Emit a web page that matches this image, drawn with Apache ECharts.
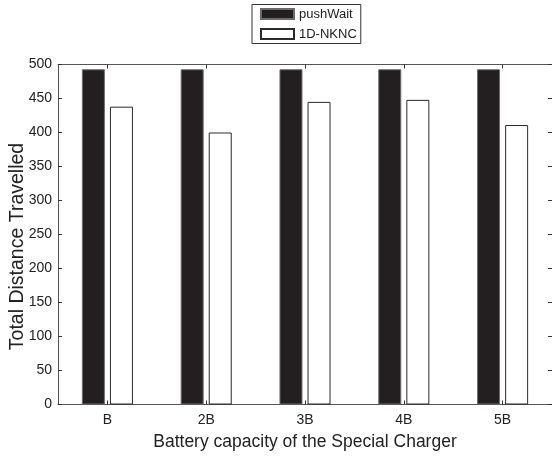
<!DOCTYPE html>
<html>
<head>
<meta charset="utf-8">
<script src="https://cdn.jsdelivr.net/npm/echarts@6/dist/echarts.min.js"></script>
<style>
  html, body { margin: 0; padding: 0; background: #ffffff; }
  #chart { width: 552px; height: 456px; }
</style>
</head>
<body>
<div id="chart"></div>
<script>
// Battery capacity settings of the special charger
const categories = ['B', '2B', '3B', '4B', '5B'];
// Total distance travelled per method
const pushWait = [493, 493, 493, 493, 493];
const nknc1D = [438, 400, 445, 448, 411];
// Value axis range and step
const yMin = 0;
const yMax = 500;
const yStep = 50;

const FONT = '"Liberation Sans", Arial, Helvetica, sans-serif';
const AXIS_COLOR = '#555555';
const TEXT_COLOR = '#222222';

const chart = echarts.init(document.getElementById('chart'), null, { renderer: 'canvas' });

// fresh style objects for every axis
function tickStyle(extra) {
  return Object.assign({ show: true, inside: true, length: 4, lineStyle: { color: '#333333', width: 1 } }, extra || {});
}
function axisLineStyle() {
  return { show: true, onZero: false, lineStyle: { color: AXIS_COLOR, width: 1 } };
}

chart.setOption({
  animation: false,
  backgroundColor: '#ffffff',
  textStyle: { fontFamily: FONT },
  legend: {
    orient: 'vertical',
    left: 252,
    top: 4.5,
    padding: [3, 4, 3, 8],
    itemWidth: 33,
    itemHeight: 10,
    itemGap: 7,
    borderColor: '#333333',
    borderWidth: 1,
    icon: 'rect',
    textStyle: { fontSize: 13, color: TEXT_COLOR, fontFamily: FONT },
    data: ['pushWait', '1D-NKNC']
  },
  grid: {
    left: 58, right: 0, top: 64.5, bottom: 51.5,
    containLabel: false,
    outerBoundsMode: 'none'
  },
  xAxis: [
    {
      type: 'category',
      data: categories,
      position: 'bottom',
      boundaryGap: true,
      axisLine: axisLineStyle(),
      axisTick: tickStyle({ alignWithLabel: true }),
      axisLabel: { fontSize: 14, color: TEXT_COLOR, margin: 9, fontFamily: FONT },
      name: 'Battery capacity of the Special Charger',
      nameLocation: 'middle',
      nameGap: 29,
      nameMoveOverlap: false,
      nameTextStyle: { fontSize: 17.5, color: TEXT_COLOR, fontFamily: FONT },
      splitLine: { show: false }
    },
    {
      type: 'category',
      data: categories,
      position: 'top',
      boundaryGap: true,
      axisLine: axisLineStyle(),
      axisTick: tickStyle({ alignWithLabel: true }),
      axisLabel: { show: false },
      splitLine: { show: false }
    }
  ],
  yAxis: [
    {
      type: 'value',
      min: yMin,
      max: yMax,
      interval: yStep,
      position: 'left',
      axisLine: axisLineStyle(),
      axisTick: tickStyle(),
      axisLabel: { fontSize: 14, color: TEXT_COLOR, margin: 6, fontFamily: FONT },
      splitLine: { show: false },
      name: 'Total Distance Travelled',
      nameLocation: 'middle',
      nameGap: 30,
      nameMoveOverlap: false,
      nameTextStyle: { fontSize: 19.5, color: TEXT_COLOR, fontFamily: FONT, padding: [0, 24, 0, 0] }
    },
    {
      type: 'value',
      min: yMin,
      max: yMax,
      interval: yStep,
      position: 'right',
      axisLine: axisLineStyle(),
      axisTick: tickStyle(),
      axisLabel: { show: false },
      splitLine: { show: false }
    }
  ],
  series: [
    {
      name: 'pushWait',
      type: 'bar',
      xAxisIndex: 0,
      yAxisIndex: 0,
      data: pushWait,
      barWidth: 23,
      barGap: '22%',
      itemStyle: { color: '#231f20', borderColor: '#6b6b6b', borderWidth: 1 }
    },
    {
      name: '1D-NKNC',
      type: 'bar',
      xAxisIndex: 0,
      yAxisIndex: 0,
      data: nknc1D,
      barWidth: 23,
      barGap: '22%',
      itemStyle: { color: '#ffffff', borderColor: '#2a2a2a', borderWidth: 1 }
    }
  ]
});
</script>
</body>
</html>
